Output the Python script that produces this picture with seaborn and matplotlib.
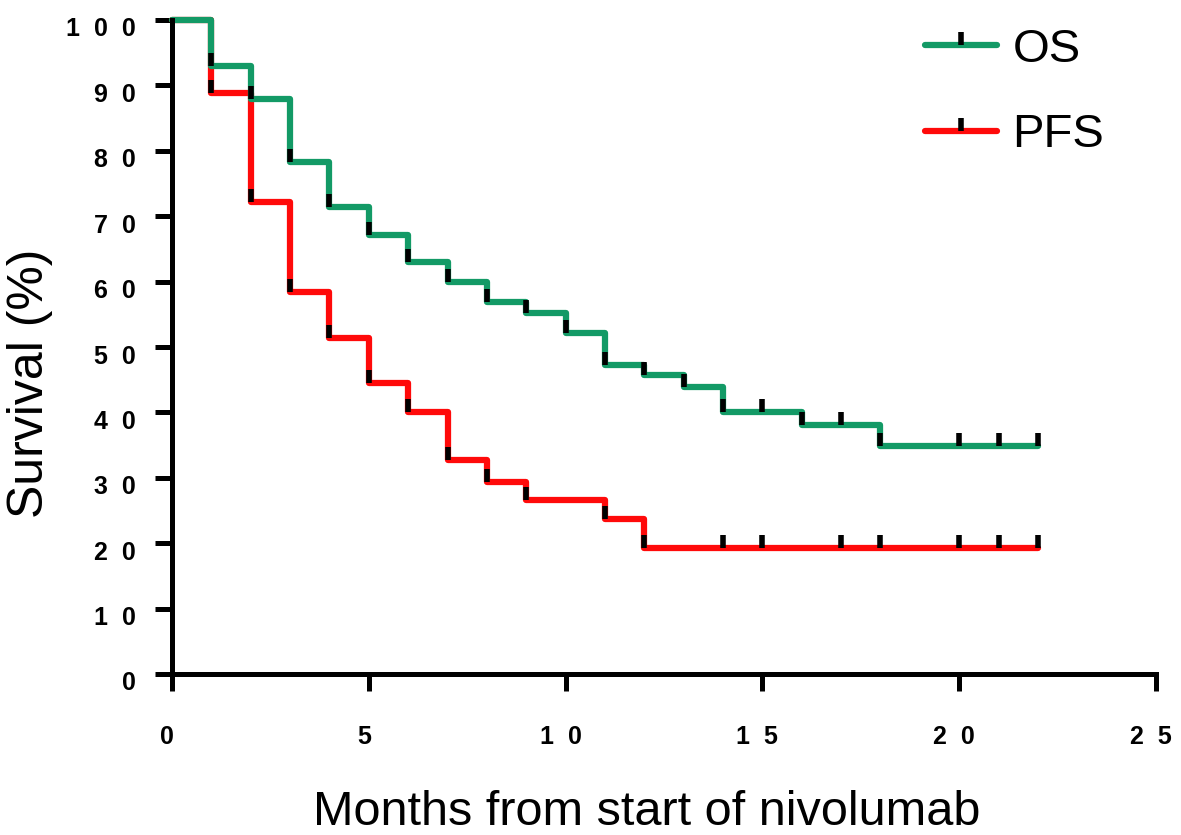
import numpy as np
import pandas as pd
import matplotlib
matplotlib.use("Agg")
import matplotlib.pyplot as plt
import matplotlib.transforms as mtransforms
from matplotlib.lines import Line2D
import seaborn as sns

# ---- data ----
os_times = [0, 1, 2, 3, 4, 5, 6, 7, 8, 9, 10, 11, 12, 13, 14, 16, 18, 22]
os_surv = [100, 93.0, 87.9, 78.3, 71.4, 67.1, 63.0, 59.9, 56.9, 55.2, 52.1,
           47.2, 45.7, 43.9, 40.1, 38.1, 34.9, 34.9]
os_censor = [15, 17, 20, 21, 22]

pfs_times = [0, 1, 2, 3, 4, 5, 6, 7, 8, 9, 11, 12, 22]
pfs_surv = [100, 88.8, 72.2, 58.4, 51.4, 44.5, 40.1, 32.7, 29.4, 26.6, 23.7, 19.3, 19.3]
pfs_censor = [14, 15, 17, 18, 20, 21, 22]

x_ticks = [0, 5, 10, 15, 20, 25]
y_ticks = [0, 10, 20, 30, 40, 50, 60, 70, 80, 90, 100]

GREEN = "#139a66"
RED = "#ff0a0a"

sns.set_style("ticks")
plt.rcParams["font.family"] = ["Liberation Sans", "DejaVu Sans"]
plt.rcParams["text.color"] = "black"
plt.rcParams["xtick.color"] = "black"
plt.rcParams["ytick.color"] = "black"
plt.rcParams["axes.labelcolor"] = "black"

df = pd.concat([
    pd.DataFrame({"time": os_times, "surv": os_surv, "curve": "OS"}),
    pd.DataFrame({"time": pfs_times, "surv": pfs_surv, "curve": "PFS"}),
], ignore_index=True)

fig = plt.figure(figsize=(11.81, 8.35), dpi=100)
ax = fig.add_axes([172 / 1181, 161 / 835, 984 / 1181, 654 / 835])

sns.lineplot(data=df, x="time", y="surv", hue="curve", hue_order=["PFS", "OS"],
             palette={"OS": GREEN, "PFS": RED}, estimator=None, sort=False,
             drawstyle="steps-post", lw=4.5, legend=False, ax=ax, clip_on=False)


def tick_points(times, surv, censor):
    t = np.asarray(times, float)
    s = np.asarray(surv, float)
    xs = list(t[1:-1]) + list(censor)
    ys = []
    for x in xs:
        i = np.searchsorted(t, x, side="right") - 1
        i = min(i, len(s) - 1)
        ys.append(s[i])
    return xs, ys


for times, surv, cens in [(pfs_times, pfs_surv, pfs_censor), (os_times, os_surv, os_censor)]:
    xs, ys = tick_points(times, surv, cens)
    ax.plot(xs, ys, linestyle="none", marker=2, ms=9.5, mew=4, color="black", clip_on=False)

ax.set_xlim(0, 25)
ax.set_ylim(0, 100)
ax.set_xticks(x_ticks)
ax.set_yticks(y_ticks)
ax.set_xticklabels(["  ".join(str(v)) for v in x_ticks], fontsize=18, fontweight="bold")
ax.set_yticklabels(["  ".join(str(v)) for v in y_ticks], fontsize=18, fontweight="bold")
ax.tick_params(axis="both", direction="out", length=12, width=3.6, color="black")
ax.tick_params(axis="y", pad=14)
ax.tick_params(axis="x", pad=25)
yshift = mtransforms.ScaledTranslation(0, -0.07, fig.dpi_scale_trans)
for lab in ax.get_yticklabels():
    lab.set_transform(lab.get_transform() + yshift)
xshift = mtransforms.ScaledTranslation(-0.05, 0, fig.dpi_scale_trans)
for lab in ax.get_xticklabels():
    lab.set_transform(lab.get_transform() + xshift)
for side in ["top", "right"]:
    ax.spines[side].set_visible(False)
for side in ["left", "bottom"]:
    ax.spines[side].set_linewidth(3.6)
    ax.spines[side].set_color("black")

ax.set_xlabel("Months from start of nivolumab", fontsize=35)
ax.xaxis.set_label_coords(0.482, -0.178)
ax.set_ylabel("Survival (%)", fontsize=36)
ax.yaxis.set_label_coords(-0.121, 0.445)

handles = [
    Line2D([0], [0], color=GREEN, lw=4.5, marker=2, ms=9.5, mew=4, mec="black"),
    Line2D([0], [0], color=RED, lw=4.5, marker=2, ms=9.5, mew=4, mec="black"),
]
leg = fig.legend(handles, ["OS", "PFS"], loc="upper left", bbox_to_anchor=(0.783, 0.967),
                 frameon=False, fontsize=34, handlelength=1.52, handletextpad=0.34,
                 labelspacing=0.88, numpoints=1, borderpad=0, borderaxespad=0)

fig.savefig("out.png", dpi=100)
